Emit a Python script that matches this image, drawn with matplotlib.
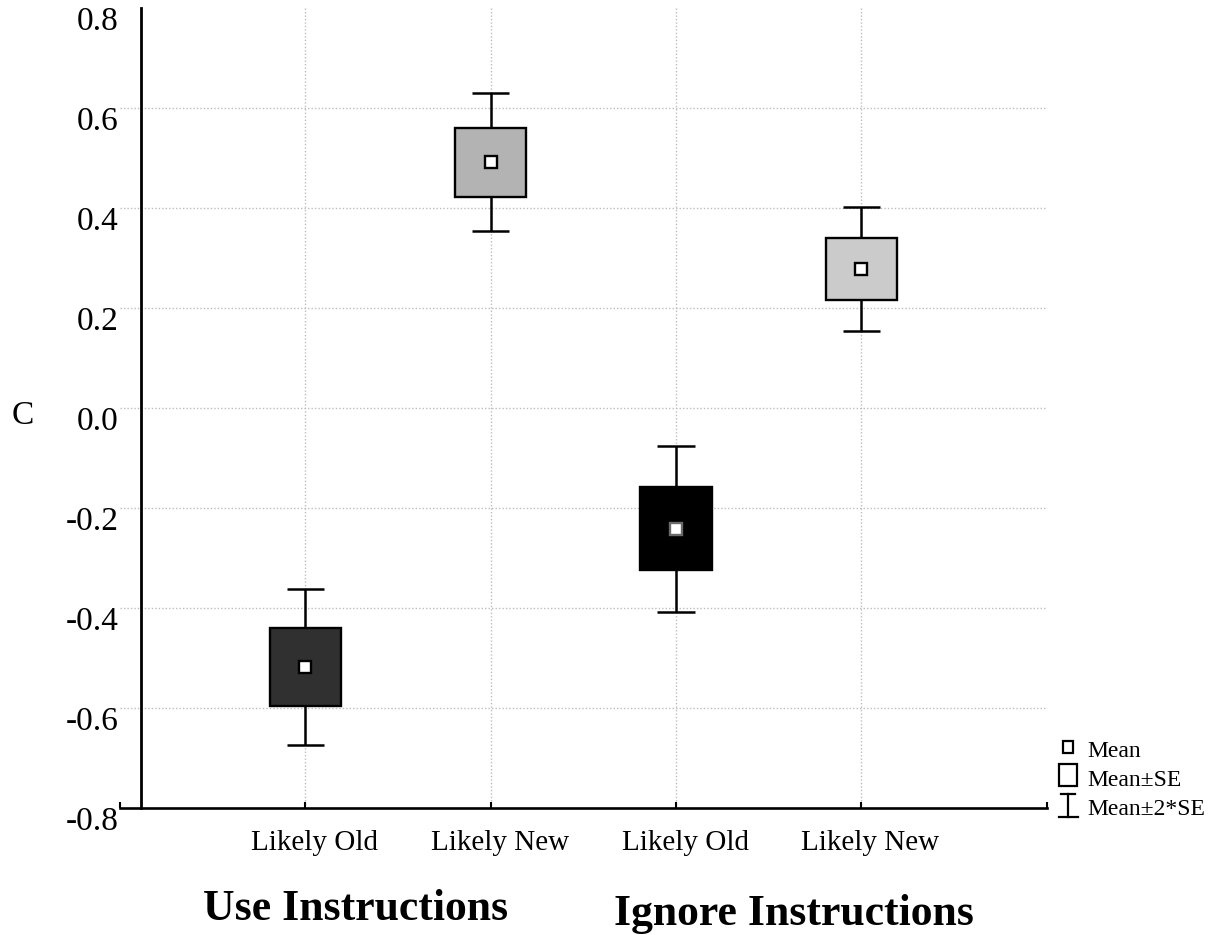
import matplotlib
matplotlib.use("Agg")
import matplotlib.pyplot as plt
import numpy as np
from matplotlib.patches import Rectangle
from matplotlib.lines import Line2D
from matplotlib.transforms import ScaledTranslation

# Data: mean and standard error of C per condition
conditions = ["Likely Old", "Likely New", "Likely Old", "Likely New"]
groups = ["Use Instructions", "Ignore Instructions"]
means = [-0.517, 0.492, -0.241, 0.279]
se = [0.078, 0.069, 0.083, 0.062]
box_colors = ["#303030", "#b3b3b3", "#000000", "#cbcbcb"]
y_ticks = [-0.8, -0.6, -0.4, -0.2, 0.0, 0.2, 0.4, 0.6, 0.8]

W, H = 1218, 935
plt.rcParams['font.family'] = ['Liberation Serif', 'DejaVu Serif']


def fxy(x, y):
    # pixel position (from top-left) -> figure fraction
    return x / W, 1 - y / H


fig = plt.figure(figsize=(W / 100, H / 100), dpi=100)
ax = fig.add_axes([120 / W, 1 - 808 / H, 926.7 / W, 800 / H])

x = np.arange(1, len(means) + 1)
m = np.array(means)
s = np.array(se)

ax.set_xlim(0, 5)
ax.set_ylim(-0.8, 0.8)

# dotted grid
grid_kw = dict(color='#bdbdbd', lw=1.0, ls=(0, (1, 1.5)), zorder=0)
for yt in y_ticks[1:-1]:
    ax.axhline(yt, **grid_kw)
for xi in x:
    ax.axvline(xi, **grid_kw)

# whiskers (mean +- 2*SE)
box_w = 0.385
cap_w = 0.2
lw = 1.8
ax.vlines(x, m + s, m + 2 * s, color='black', lw=lw, zorder=2)
ax.vlines(x, m - 2 * s, m - s, color='black', lw=lw, zorder=2)
ax.hlines(m + 2 * s, x - cap_w / 2, x + cap_w / 2, color='black', lw=lw, zorder=2)
ax.hlines(m - 2 * s, x - cap_w / 2, x + cap_w / 2, color='black', lw=lw, zorder=2)

# boxes (mean +- SE) and mean markers
for xi, mi, si, c in zip(x, m, s, box_colors):
    ax.add_patch(Rectangle((xi - box_w / 2, mi - si), box_w, 2 * si,
                           facecolor=c, edgecolor='black', lw=1.7, zorder=3))
    mec = '#6a6a6a' if c == "#000000" else 'black'
    ax.plot(xi, mi, 's', ms=8.5, mfc='white', mec=mec, mew=1.7, zorder=4)

# spines
for side in ['top', 'right']:
    ax.spines[side].set_visible(False)
ax.spines['left'].set_position(('data', 0.113))
ax.spines['left'].set_linewidth(2.0)
ax.spines['bottom'].set_linewidth(1.9)

# ticks
ax.set_xticks(x, conditions)
ax.set_xticks([0, 5], minor=True)
ax.tick_params(axis='x', which='major', direction='in', length=4, width=1.5,
               pad=16, labelsize=21)
ax.tick_params(axis='x', which='minor', direction='in', length=4, width=1.5)
ax.set_yticks(y_ticks, [f"{v:.1f}" for v in y_ticks])
ax.tick_params(axis='y', length=0, pad=16, labelsize=24)

for lbl in ax.get_yticklabels():
    lbl.set_transform(lbl.get_transform() + ScaledTranslation(0, -0.10, fig.dpi_scale_trans))
for lbl in ax.get_xticklabels():
    lbl.set_transform(lbl.get_transform() + ScaledTranslation(0.09, 0, fig.dpi_scale_trans))

# axis title and group labels
fig.text(*fxy(12, 416), "C", ha='left', va='center', fontsize=24)
fig.text(*fxy(356, 920), groups[0], ha='center', va='baseline',
         fontsize=31.5, fontweight='bold')
fig.text(*fxy(793.5, 925), groups[1], ha='center', va='baseline',
         fontsize=31.5, fontweight='bold')

# legend, drawn by hand
tf = fig.transFigure
x0, y0 = fxy(1063, 753)
x1, y1 = fxy(1073, 741)
fig.add_artist(Rectangle((x0, y0), x1 - x0, y1 - y0, transform=tf,
                         facecolor='white', edgecolor='black', lw=1.6))
x0, y0 = fxy(1059, 786)
x1, y1 = fxy(1077, 764)
fig.add_artist(Rectangle((x0, y0), x1 - x0, y1 - y0, transform=tf,
                         facecolor='none', edgecolor='black', lw=1.6))
for (xa, ya), (xb, yb) in [((1068, 794), (1068, 817)),
                           ((1061, 794), (1075, 794)),
                           ((1059, 817), (1078, 817))]:
    pa, pb = fxy(xa, ya), fxy(xb, yb)
    fig.add_artist(Line2D([pa[0], pb[0]], [pa[1], pb[1]], transform=tf,
                          color='black', lw=1.6))
for label, yb in [("Mean", 757), ("Mean\u00b1SE", 786), ("Mean\u00b12*SE", 815)]:
    fig.text(*fxy(1087, yb), label, ha='left', va='baseline', fontsize=17)

fig.savefig("out.png", dpi=100)
